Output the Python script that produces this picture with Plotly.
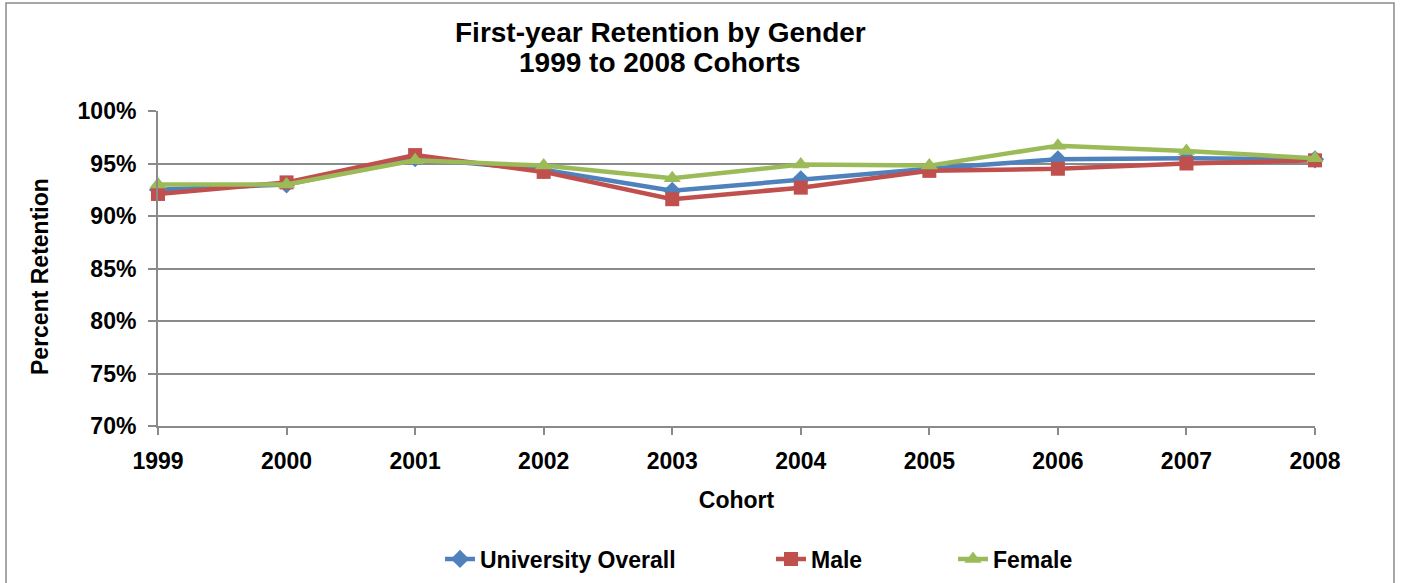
import plotly.graph_objects as go

cohorts = ["1999", "2000", "2001", "2002", "2003", "2004", "2005", "2006", "2007", "2008"]
university_overall = [92.5, 93.0, 95.5, 94.4, 92.4, 93.5, 94.5, 95.4, 95.5, 95.4]
male = [92.1, 93.2, 95.8, 94.2, 91.6, 92.7, 94.3, 94.5, 95.0, 95.3]
female = [93.0, 93.0, 95.3, 94.8, 93.6, 94.9, 94.8, 96.7, 96.2, 95.5]

FONT = "Liberation Sans, Arial, sans-serif"
GRAY = "#8A8A8A"
W, H = 1401, 583

series = [
    ("University Overall", university_overall, "#4F81BD", "diamond", 14, "legend"),
    ("Male", male, "#C0504D", "square", 14, "legend2"),
    ("Female", female, "#9BBB59", "triangle-up", 15, "legend3"),
]

fig = go.Figure()
for name, vals, color, sym, size, leg in series:
    fig.add_trace(go.Scatter(
        x=cohorts, y=[v / 100 for v in vals], name=name, mode="lines+markers",
        line=dict(color=color, width=4.5),
        marker=dict(symbol=sym, size=size, color=color),
        cliponaxis=False, legend=leg,
    ))

def px_x(p):
    return (p - 158) / 1157

def px_y(p):
    return (426 - p) / 315

leg_common = dict(orientation="h", yanchor="middle", yref="container", y=1 - 559 / H,
                  xanchor="left", xref="container",
                  font=dict(family=FONT, size=23, color="black", weight="bold"),
                  bgcolor="rgba(0,0,0,0)", borderwidth=0)

bold23 = dict(family=FONT, size=23, color="black", weight="bold")

fig.update_layout(
    width=W, height=H,
    margin=dict(l=158, r=86, t=111, b=157, autoexpand=False),
    paper_bgcolor="white", plot_bgcolor="white",
    font=dict(family=FONT, color="black"),
    showlegend=True,
    legend=dict(x=440 / W, **leg_common),
    legend2=dict(x=771 / W, **leg_common),
    legend3=dict(x=953 / W, **leg_common),
    xaxis=dict(
        type="category", range=[0, len(cohorts) - 1],
        showgrid=False, zeroline=False,
        showline=True, linecolor=GRAY, linewidth=2,
        ticks="outside", ticklen=7, tickwidth=1.5, tickcolor=GRAY,
        tickfont=bold23,
        ticklabelstandoff=6,
        title=dict(text="Cohort", font=bold23, standoff=19),
    ),
    xaxis2=dict(
        overlaying="x", anchor="y", type="linear", range=[0, len(cohorts) - 1],
        tickmode="array", tickvals=list(range(len(cohorts))),
        showticklabels=False, showgrid=False, zeroline=False, showline=False,
        ticks="inside", ticklen=6, tickwidth=1.5, tickcolor=GRAY,
    ),
    yaxis=dict(
        range=[0.70, 1.00], dtick=0.05, tick0=0.70, tickformat=".0%",
        showgrid=True, gridcolor=GRAY, gridwidth=1.5, zeroline=False,
        showline=True, linecolor=GRAY, linewidth=2,
        ticks="outside", ticklen=8, tickwidth=1.5, tickcolor=GRAY,
        tickfont=bold23,
        ticklabelstandoff=7,
    ),
    annotations=[
        dict(text="First-year Retention by Gender", xref="paper", yref="paper",
             x=px_x(660), y=px_y(32), xanchor="center", yanchor="middle", showarrow=False,
             font=dict(family=FONT, size=28, color="black", weight="bold")),
        dict(text="1999 to 2008 Cohorts", xref="paper", yref="paper",
             x=px_x(660), y=px_y(62), xanchor="center", yanchor="middle", showarrow=False,
             font=dict(family=FONT, size=28, color="black", weight="bold")),
        dict(text="Percent Retention", xref="paper", yref="paper", textangle=-90,
             x=px_x(40), y=px_y(277), xanchor="center", yanchor="middle", showarrow=False,
             font=bold23),
    ],
    shapes=[
        dict(type="rect", xref="paper", yref="paper", x0=px_x(6), x1=px_x(1394),
             y0=px_y(640), y1=px_y(3), line=dict(color=GRAY, width=1.5), layer="below"),
    ],
)

fig.write_html("out.html", config={"displayModeBar": False},
               post_script="document.body.style.margin='0';document.body.style.padding='0';")
